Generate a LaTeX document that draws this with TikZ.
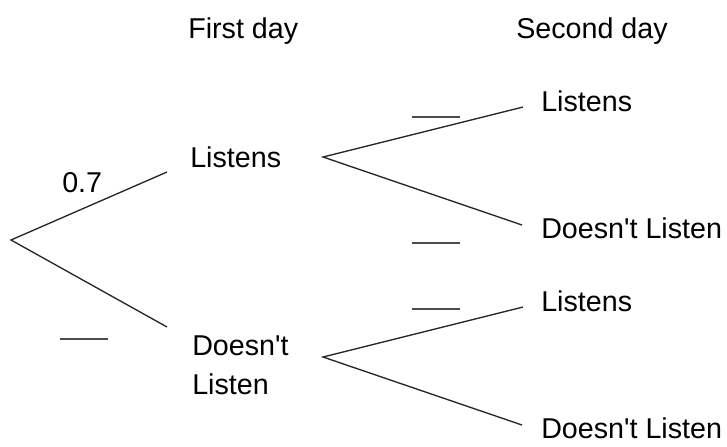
\documentclass[tikz,border=0pt]{standalone}
\usepackage{fontspec}
\setmainfont{Liberation Sans}
\usetikzlibrary{positioning}

\tikzset{
  lbl/.style={anchor=base west,inner sep=0pt,font=\fontsize{21.5}{29.25}\selectfont},
  branch/.style={line width=1pt,black!85},
  blank/.style={line width=.8pt,black!70}
}

\begin{document}
\begin{tikzpicture}[x=.75pt,y=-.75pt]
\path[use as bounding box] (0,0) rectangle (727,446);
\node[lbl] (day1) at (188,38) {First day};
\node[lbl] (day2) at (516,38) {Second day};
\node[lbl] (p1) at (62,192) {0.7};
\node[lbl] (a) at (190,167) {Listens};
\node[lbl,align=left] (b) at (192,394) {Doesn\textquotesingle t\\Listen};
\node[lbl] (aa) at (541,111) {Listens};
\node[lbl] (ab) at (541,238) {Doesn\textquotesingle t Listen};
\node[lbl] (ba) at (541,311) {Listens};
\node[lbl] (bb) at (541,438) {Doesn\textquotesingle t Listen};
\coordinate (root) at (11,240);
\coordinate (aL) at (167,172);
\coordinate (bL) at (167,327);
\coordinate (aR) at (323,157);
\coordinate (bR) at (323,357);
\coordinate (aaL) at (523,107);
\coordinate (abL) at (522,225);
\coordinate (baL) at (523,307);
\coordinate (bbL) at (522,425);
\draw[branch] (aL) -- (root) -- (bL);
\draw[branch] (aaL) -- (aR) -- (abL);
\draw[branch] (baL) -- (bR) -- (bbL);
\draw[blank] (60,339) -- (108,339);
\draw[blank] (412,117) -- (460,117);
\draw[blank] (412,243) -- (460,243);
\draw[blank] (412,309) -- (460,309);
\end{tikzpicture}
\end{document}
